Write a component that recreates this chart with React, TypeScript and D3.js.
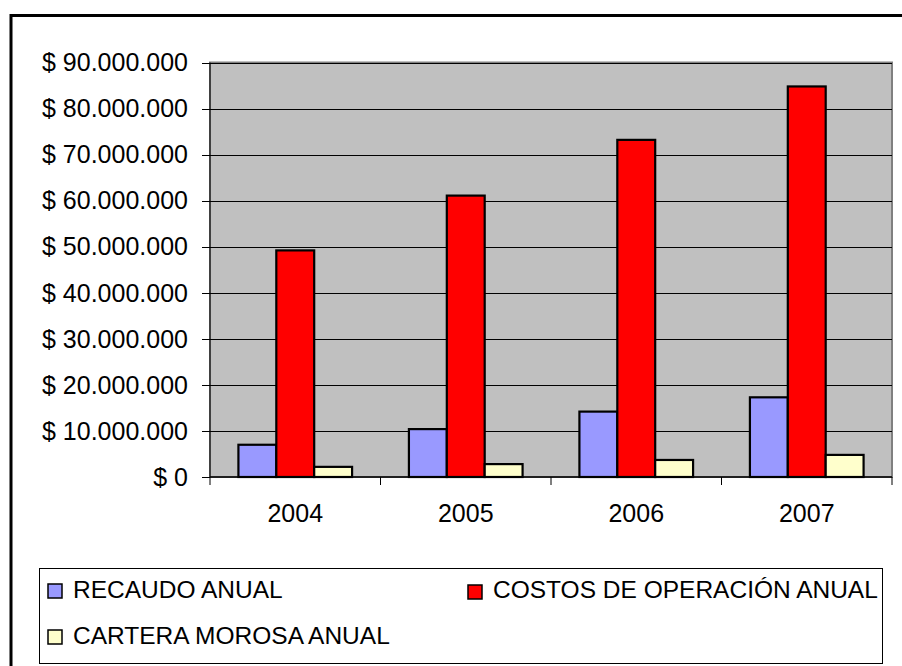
import React from "react";
import * as d3 from "d3";

const years = ["2004", "2005", "2006", "2007"];
const seriesNames = ["RECAUDO ANUAL", "COSTOS DE OPERACIÓN ANUAL", "CARTERA MOROSA ANUAL"];
const recaudo = [7.0e6, 10.4e6, 14.2e6, 17.3e6];
const costos = [49.2e6, 61.1e6, 73.2e6, 84.8e6];
const cartera = [2.2e6, 2.8e6, 3.7e6, 4.8e6];
const yTicks = [0, 10e6, 20e6, 30e6, 40e6, 50e6, 60e6, 70e6, 80e6, 90e6];
const colors = ["#9999FF", "#FF0000", "#FFFFCC"];

const FONT = "'Liberation Sans', Arial, sans-serif";

export default function App() {
  const left = 210, right = 892, top = 62.5, bottom = 477;
  const x0 = d3.scaleBand<string>().domain(years).range([left, right]).padding(0);
  const x1 = d3.scaleBand<string>().domain(seriesNames).range([0, x0.bandwidth()]).paddingInner(0).paddingOuter(0.75);
  const y = d3.scaleLinear().domain([0, 90e6]).range([bottom, top]);
  const locale = d3.formatLocale({ decimal: ",", thousands: ".", grouping: [3], currency: ["$ ", ""] });
  const fmt = locale.format("$,.0f");
  const data = [recaudo, costos, cartera];

  return (
    <svg width={902} height={666} style={{ position: "absolute", left: 0, top: 0 }} fontFamily={FONT}>
      <rect x={0} y={0} width={902} height={666} fill="#fff" />
      <rect x={11} y={15.5} width={1000} height={800} fill="#fff" stroke="#000" strokeWidth={3} />
      {/* plot area */}
      <rect x={left} y={top} width={right - left} height={bottom - top} fill="#C0C0C0" stroke="#808080" strokeWidth={2} />
      {yTicks.slice(1).map((t) => (
        <line key={t} x1={left} x2={right} y1={Math.round(y(t)) + 0.5} y2={Math.round(y(t)) + 0.5} stroke="#000" strokeWidth={1} />
      ))}
      {/* bars */}
      {years.map((yr, i) => (
        <g key={yr}>
          {seriesNames.map((s, j) => {
            const v = data[j][i];
            const bx = (x0(yr) as number) + (x1(s) as number);
            return (
              <rect key={s} x={bx} y={y(v)} width={x1.bandwidth()} height={y(0) - y(v)} fill={colors[j]} stroke="#000" strokeWidth={2.2} />
            );
          })}
        </g>
      ))}
      {/* axes */}
      <line x1={left} x2={left} y1={top} y2={bottom} stroke="#000" strokeWidth={1} />
      <line x1={left} x2={right} y1={bottom} y2={bottom} stroke="#000" strokeWidth={1.5} />
      {yTicks.map((t) => (
        <g key={t}>
          <line x1={left - 8} x2={left} y1={Math.round(y(t)) + 0.5} y2={Math.round(y(t)) + 0.5} stroke="#000" strokeWidth={1} />
          <text x={188} y={y(t)} dy="0.35em" textAnchor="end" fontSize={25} fill="#000">{fmt(t)}</text>
        </g>
      ))}
      {[...years.map((yr) => x0(yr) as number), right].map((xv, i) => (
        <line key={i} x1={xv} x2={xv} y1={bottom} y2={bottom + 8} stroke="#000" strokeWidth={1} />
      ))}
      {years.map((yr) => (
        <text key={yr} x={(x0(yr) as number) + x0.bandwidth() / 2} y={522} textAnchor="middle" fontSize={25} fill="#000">{yr}</text>
      ))}
      {/* legend */}
      <rect x={39.5} y={568.5} width={843} height={95} fill="#fff" stroke="#000" strokeWidth={1} />
      {[
        { x: 48, y: 584, tx: 73, ty: 598 },
        { x: 468, y: 585, tx: 493, ty: 598 },
        { x: 48, y: 630, tx: 73, ty: 644 },
      ].map((p, j) => (
        <g key={j}>
          <rect x={p.x} y={p.y} width={14} height={14} fill={colors[j]} stroke="#000" strokeWidth={1.5} />
          <text x={p.tx} y={p.ty} fontSize={24.5} fill="#000">{seriesNames[j]}</text>
        </g>
      ))}
    </svg>
  );
}
